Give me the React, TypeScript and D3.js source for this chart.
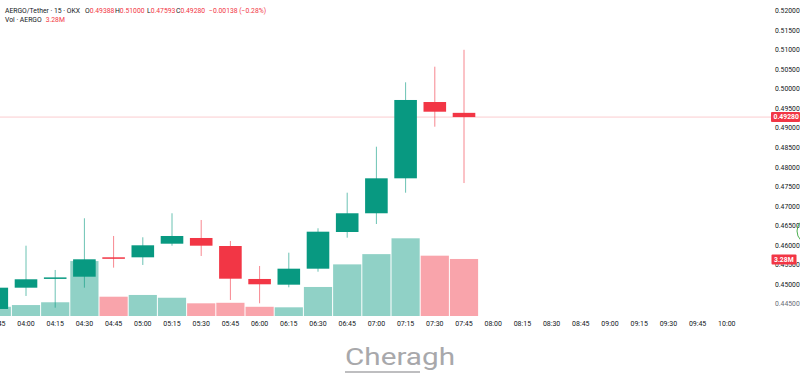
import React, { useEffect, useRef } from "react";
import * as d3 from "d3";

// 15m candles, AERGO/USDT on OKX
const times = ["03:45", "04:00", "04:15", "04:30", "04:45", "05:00", "05:15", "05:30", "05:45", "06:00", "06:15", "06:30", "06:45", "07:00", "07:15", "07:30", "07:45", "08:00", "08:15", "08:30", "08:45", "09:00", "09:15", "09:30", "09:45", "10:00"];
const opens = [0.44373, 0.44917, 0.45173, 0.45198, 0.45694, 0.45694, 0.46042, 0.46188, 0.45983, 0.4514, 0.44994, 0.45403, 0.46341, 0.4682, 0.47714, 0.49665, 0.49388];
const highs = [0.4506, 0.45991, 0.4537, 0.46692, 0.46239, 0.46206, 0.4682, 0.46648, 0.46111, 0.45472, 0.45812, 0.46436, 0.47346, 0.48522, 0.50169, 0.50568, 0.51];
const lows = [0.4425, 0.44705, 0.44406, 0.44917, 0.45429, 0.45498, 0.45991, 0.45728, 0.44603, 0.44518, 0.44927, 0.45326, 0.46196, 0.46546, 0.47346, 0.49034, 0.47593];
const closes = [0.44917, 0.45132, 0.4518, 0.45643, 0.45689, 0.46001, 0.46239, 0.45991, 0.45147, 0.45004, 0.45403, 0.46349, 0.4682, 0.47714, 0.49717, 0.49417, 0.4928];
const volumes = [0.53, 0.63, 0.79, 3.16, 1.11, 1.21, 1.05, 0.73, 0.76, 0.53, 0.5, 1.67, 2.97, 3.56, 4.47, 3.47, 3.28];
const priceTicks = d3.range(0, 16).map(i => 0.445 + i * 0.005);

const UP = "#089981";
const DOWN = "#f23645";
const FONT = "Roboto, 'Liberation Sans', sans-serif";
const FS = 6.8;

export default function App() {
  const ref = useRef<SVGSVGElement>(null);

  useEffect(() => {
    const svg = d3.select(ref.current);
    svg.selectAll("*").remove();

    const x = d3.scaleLinear().domain([0, times.length - 1]).range([-3.2, 726.8]);
    const y = d3.scaleLinear().domain([0.445, 0.52]).range([304, 10.7]);
    const yv = d3.scaleLinear().domain([0, 4.47]).range([316, 238.3]);
    const step = x(1) - x(0);
    const bodyW = 22.6;

    const data = opens.map((o, i) => ({
      i, o, h: highs[i], l: lows[i], c: closes[i], v: volumes[i],
      up: closes[i] >= o,
    }));

    // volume bars
    svg.append("g").selectAll("rect").data(data).join("rect")
      .attr("x", d => x(d.i) - step / 2 + 0.5)
      .attr("width", step - 1)
      .attr("y", d => yv(d.v))
      .attr("height", d => yv(0) - yv(d.v))
      .attr("fill", d => d.up ? UP : DOWN)
      .attr("fill-opacity", 0.45);

    // last price line
    svg.append("line")
      .attr("x1", 0).attr("x2", 771)
      .attr("y1", y(0.4928)).attr("y2", y(0.4928))
      .attr("stroke", DOWN).attr("stroke-opacity", 0.25);

    // wicks
    svg.append("g").selectAll("line").data(data).join("line")
      .attr("x1", d => x(d.i)).attr("x2", d => x(d.i))
      .attr("y1", d => y(d.h)).attr("y2", d => y(d.l))
      .attr("stroke", d => d.up ? UP : DOWN)
      .attr("stroke-opacity", 0.6)
      .attr("stroke-width", 1);

    // bodies
    svg.append("g").selectAll("rect").data(data).join("rect")
      .attr("x", d => x(d.i) - bodyW / 2)
      .attr("width", bodyW)
      .attr("y", d => y(Math.max(d.o, d.c)))
      .attr("height", d => Math.max(1.5, Math.abs(y(d.o) - y(d.c))))
      .attr("fill", d => d.up ? UP : DOWN);

    // time axis
    svg.append("g").selectAll("text").data(times).join("text")
      .attr("x", (d, i) => x(i))
      .attr("y", 324)
      .attr("dy", "0.35em")
      .attr("text-anchor", "middle")
      .attr("font-family", FONT)
      .attr("font-size", 7)
      .attr("fill", "#131722")
      .text(d => d);

    // price axis
    svg.append("g").selectAll("text").data(priceTicks).join("text")
      .attr("x", 775)
      .attr("y", d => y(d))
      .attr("dy", "0.35em")
      .attr("font-family", FONT)
      .attr("font-size", FS)
      .attr("fill", d => d < 0.4475 ? "#6a6d78" : "#131722")
      .text(d => d3.format(".5f")(d));

    // side widget edge
    svg.append("circle")
      .attr("cx", 810).attr("cy", 231).attr("r", 13)
      .attr("fill", "none").attr("stroke", "#4caf50").attr("stroke-width", 1);

    // last price / volume tags
    const tags = [
      { label: "0.49280", cy: y(0.4928), x0: 771, x1: 800 },
      { label: "3.28M", cy: yv(3.28) + 0.5, x0: 771.5, x1: 796.5 },
    ];
    const tg = svg.append("g").selectAll("g").data(tags).join("g");
    tg.append("rect")
      .attr("x", d => d.x0).attr("width", d => d.x1 - d.x0)
      .attr("y", d => d.cy - 5).attr("height", 10)
      .attr("rx", 1)
      .attr("fill", DOWN);
    tg.append("text")
      .attr("x", d => d.x0 + 2.5)
      .attr("y", d => d.cy)
      .attr("dy", "0.35em")
      .attr("font-family", FONT)
      .attr("font-size", FS)
      .attr("font-weight", 700)
      .attr("fill", "#fff")
      .text(d => d.label);

    // legend
    const l1 = svg.append("text").attr("x", 5).attr("y", 11).attr("dy", "0.35em")
      .attr("font-family", FONT).attr("font-size", FS).attr("fill", "#131722");
    l1.append("tspan").text("AERGO/Tether · 15 · OKX");
    const ohlc = [["O", "0.49388"], ["H", "0.51000"], ["L", "0.47593"], ["C", "0.49280"]];
    const lx = [85, 115, 147, 176];
    ohlc.forEach(([k, v], i) => {
      l1.append("tspan").attr("x", lx[i]).text(k);
      l1.append("tspan").attr("fill", DOWN).text(v);
    });
    l1.append("tspan").attr("x", 209).attr("fill", DOWN).text("−0.00138 (−0.28%)");

    const l2 = svg.append("text").attr("x", 5).attr("y", 20).attr("dy", "0.35em")
      .attr("font-family", FONT).attr("font-size", FS).attr("fill", "#131722");
    l2.append("tspan").text("Vol · AERGO");
    l2.append("tspan").attr("dx", 4).attr("fill", DOWN).text("3.28M");

    // watermark
    svg.append("text")
      .attr("x", 345).attr("y", 365)
      .attr("font-family", FONT)
      .attr("font-size", 24)
      .attr("font-weight", 400)
      .attr("textLength", 110)
      .attr("lengthAdjust", "spacingAndGlyphs")
      .attr("fill", "#a8a8ab")
      .text("Cheragh");
    svg.append("line")
      .attr("x1", 345).attr("x2", 420)
      .attr("y1", 372).attr("y2", 372)
      .attr("stroke", "#a8a8ab").attr("stroke-width", 1.6);
  }, []);

  return (
    <svg ref={ref} width={800} height={388}
      style={{ position: "absolute", left: 0, top: 0, background: "#fff" }} />
  );
}
